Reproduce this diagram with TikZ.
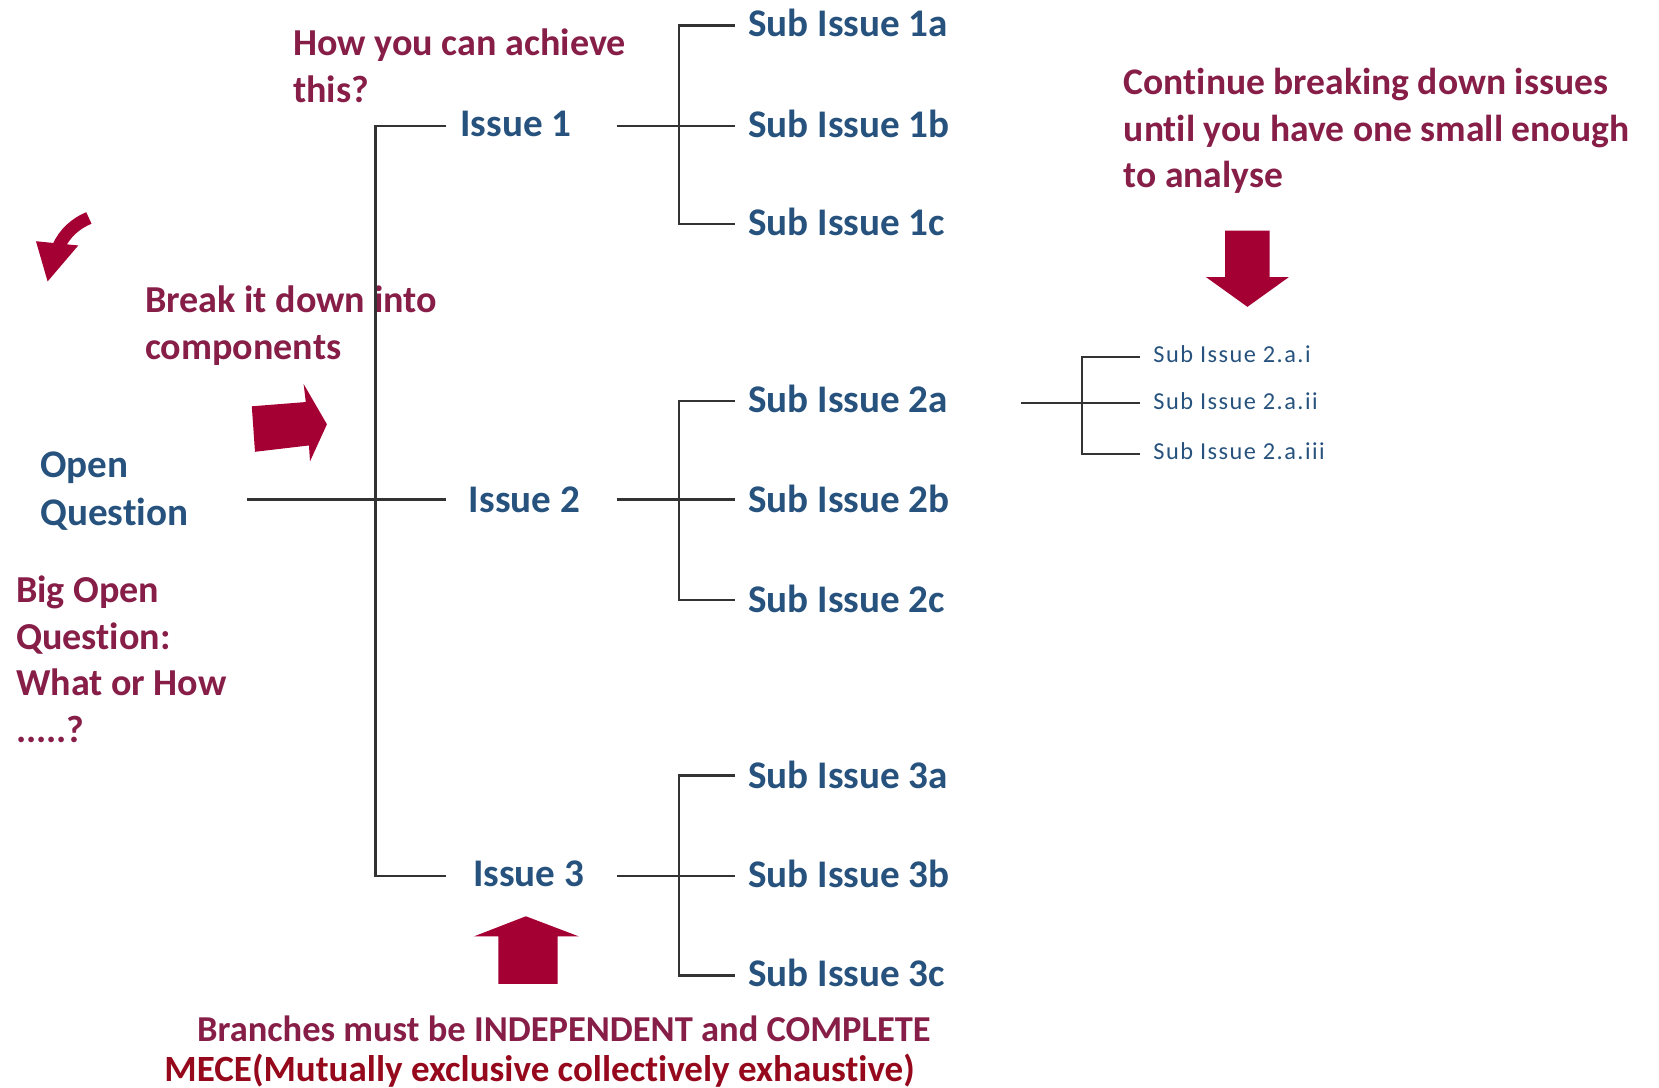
\documentclass[tikz,border=0pt]{standalone}
\usepackage{fontspec}
\setmainfont{Carlito}[Ligatures=NoCommon]
\definecolor{qblue}{RGB}{38,82,125}
\definecolor{qmaroon}{RGB}{135,30,72}
\definecolor{qarrow}{RGB}{165,0,52}
\definecolor{qmece}{RGB}{150,8,28}
\begin{document}
\begin{tikzpicture}[x=1pt,y=-1pt,
  ln/.style={draw=black!80, line width=2.2pt},
  issue/.style={anchor=west, inner sep=0pt, text=qblue, font=\fontsize{37}{40}\selectfont\bfseries},
  tiny/.style={anchor=west, inner sep=0pt, text=qblue, font=\fontsize{23}{26}\selectfont\addfontfeatures{LetterSpace=6}},
  note/.style={anchor=west, inner sep=0pt, text=qmaroon, align=left, font=\fontsize{36}{44}\selectfont\bfseries},
  arr/.style={fill=qarrow, draw=none}]
\useasboundingbox (0,0) rectangle (1568,1028);

% ---------- text nodes ----------
\node[issue, align=left, font=\fontsize{37}{45}\selectfont\bfseries] (oq) at (38,464) {Open\\Question};
\node[issue] (i1) at (435,117) {Issue 1};
\node[issue] (i2) at (443,472) {Issue 2};
\node[issue] (i3) at (447,826) {Issue 3};

\node[issue] (s1a) at (707,22)  {Sub Issue 1a};
\node[issue] (s1b) at (707,117) {Sub Issue 1b};
\node[issue] (s1c) at (707,210) {Sub Issue 1c};
\node[issue] (s2a) at (707,377) {Sub Issue 2a};
\node[issue] (s2b) at (707,472) {Sub Issue 2b};
\node[issue] (s2c) at (707,566) {Sub Issue 2c};
\node[issue] (s3a) at (707,732) {Sub Issue 3a};
\node[issue] (s3b) at (707,826) {Sub Issue 3b};
\node[issue] (s3c) at (707,920) {Sub Issue 3c};

\node[tiny] (t1) at (1090,335) {Sub Issue 2.a.i};
\node[tiny] (t2) at (1090,379) {Sub Issue 2.a.ii};
\node[tiny] (t3) at (1090,426) {Sub Issue 2.a.iii};

\node[note] (how) at (277,62) {How you can achieve\\this?};
\node[note, font=\fontsize{35.5}{44}\selectfont\bfseries] (cont) at (1062,124) {Continue breaking down issues\\until you have one small enough\\to analyse};
\node[note] (brk) at (137,308) {Break it down into\\components};
\node[note] (big) at (15,623) {Big Open\\Question:\\What or How\\.....?};
\node[anchor=center, inner sep=0pt, text=qmaroon, font=\fontsize{34.5}{36}\selectfont\bfseries] (br) at (533,972) {Branches must be INDEPENDENT and COMPLETE};
\node[anchor=center, inner sep=0pt, text=qmece, font=\fontsize{35}{36}\selectfont\bfseries] (mece) at (510,1012) {MECE(Mutually exclusive collectively exhaustive)};

% ---------- tree connectors ----------
\coordinate (oqE) at (233,472);
\coordinate (j1) at (355,119);
\coordinate (j2) at (355,472);
\coordinate (j3) at (355,828);
\coordinate (e1) at (422,119);
\coordinate (e2) at (422,472);
\coordinate (e3) at (422,828);
\draw[ln] (oqE) -- (e2);
\draw[ln] (e1) -- (j1) -- (j3) -- (e3);

% issue 1
\coordinate (r1) at (583,119);
\coordinate (a1) at (642,24);  \coordinate (a1e) at (695,24);
\coordinate (b1) at (642,119); \coordinate (b1e) at (695,119);
\coordinate (c1) at (642,212); \coordinate (c1e) at (695,212);
\draw[ln] (r1) -- (b1e);
\draw[ln] (a1e) -- (a1) -- (c1) -- (c1e);
% issue 2
\coordinate (r2) at (583,472);
\coordinate (a2) at (642,379); \coordinate (a2e) at (695,379);
\coordinate (b2e) at (695,472);
\coordinate (c2) at (642,567); \coordinate (c2e) at (695,567);
\draw[ln] (r2) -- (b2e);
\draw[ln] (a2e) -- (a2) -- (c2) -- (c2e);
% issue 3
\coordinate (r3) at (583,828);
\coordinate (a3) at (642,733); \coordinate (a3e) at (695,733);
\coordinate (b3e) at (695,828);
\coordinate (c3) at (642,922); \coordinate (c3e) at (695,922);
\draw[ln] (r3) -- (b3e);
\draw[ln] (a3e) -- (a3) -- (c3) -- (c3e);
% sub issue 2a
\coordinate (r4) at (965,381);
\coordinate (a4) at (1023,337); \coordinate (a4e) at (1077,337);
\coordinate (b4e) at (1077,381);
\coordinate (c4) at (1023,429); \coordinate (c4e) at (1077,429);
\draw[ln, line width=2pt] (r4) -- (b4e);
\draw[ln, line width=2pt] (a4e) -- (a4) -- (c4) -- (c4e);

% ---------- block arrows ----------
% right arrow
\fill[arr] (238,384) -- (289,380) -- (287,363) -- (309,401) -- (293,436) -- (292,421) -- (241,427) -- cycle;
% down arrow
\fill[arr] (1158,218) -- (1200,218) -- (1200,262) -- (1218,262) -- (1179,290) -- (1140,262) -- (1158,262) -- cycle;
% up arrow
\fill[arr] (471,930) -- (471,885) -- (448,885) -- (497,866) -- (547,885) -- (527,885) -- (527,930) -- cycle;
% curved arrow
\draw[qarrow, line width=12pt] (84,206) .. controls (72,211) and (61,220) .. (55,234);
\fill[arr] (34,228) -- (74,232) -- (45,266) -- cycle;
\end{tikzpicture}
\end{document}
